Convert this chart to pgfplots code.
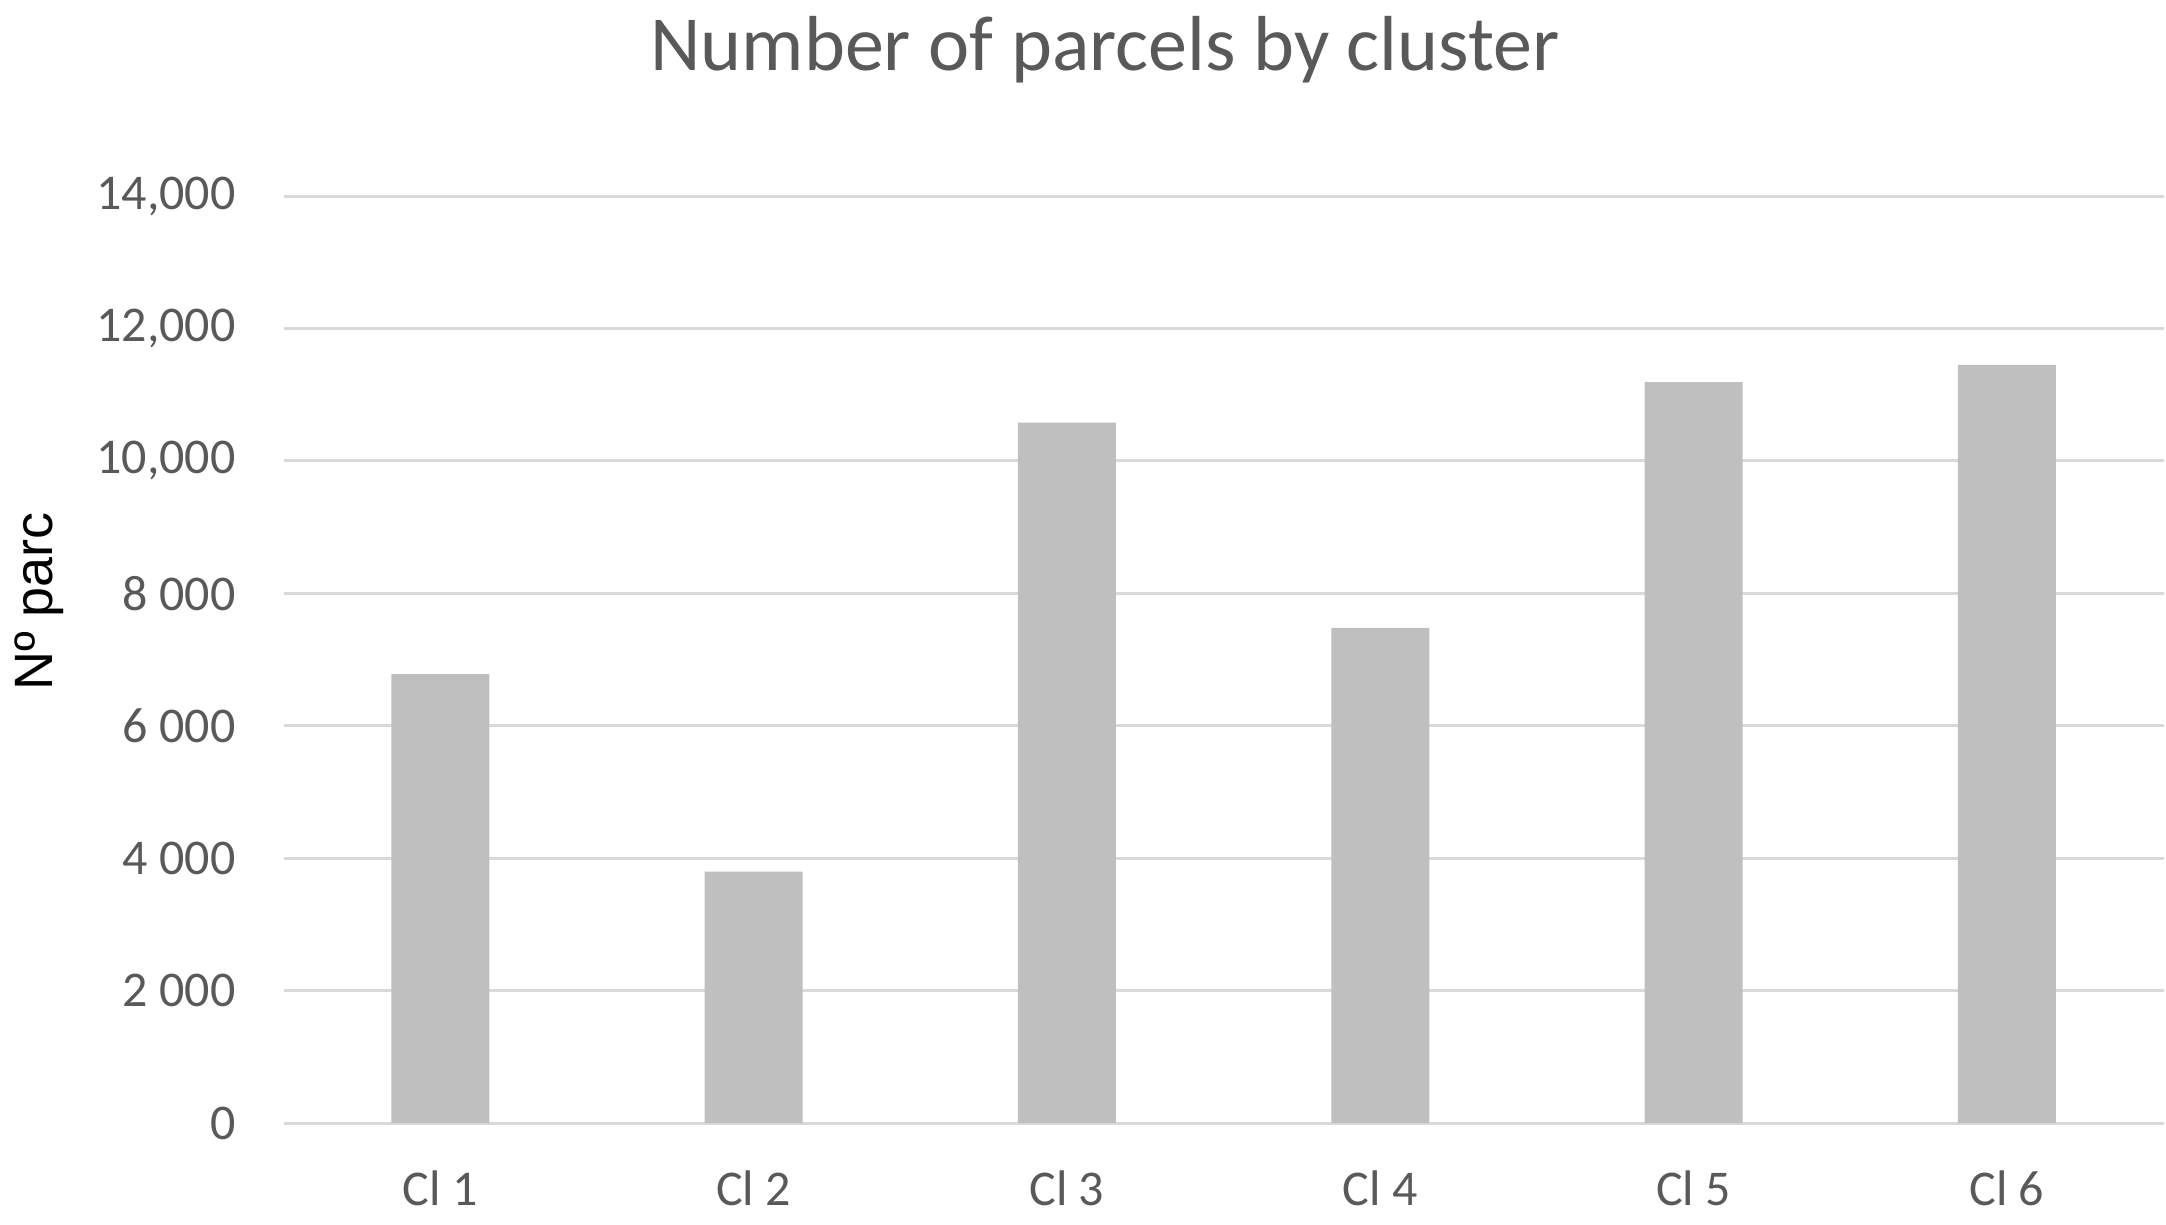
\documentclass[border=0pt]{standalone}
\usepackage{pgfplots}
\pgfplotsset{compat=1.18}
\usepackage{fontspec}
\setmainfont{Carlito}
\newfontfamily\arialfont{Liberation Sans}

\definecolor{txtgrey}{HTML}{595959}
\definecolor{gridgrey}{HTML}{D9D9D9}
\definecolor{bargrey}{HTML}{BFBFBF}

\begin{document}
\begin{tikzpicture}
\begin{axis}[
    at={(0,0)}, anchor=south west,
    scale only axis,
    width=470pt, height=231.8pt,
    xmin=-0.5, xmax=5.5,
    ymin=0, ymax=14000,
    xtick={0,1,2,3,4,5},
    xticklabels={Cl 1,Cl 2,Cl 3,Cl 4,Cl 5,Cl 6},
    ytick={0,2000,4000,6000,8000,10000,12000,14000},
    yticklabels={0,2 000,4 000,6 000,8 000,{10,000},{12,000},{14,000}},
    scaled y ticks=false,
    major tick length=0pt,
    axis line style={draw=none},
    ymajorgrids=true,
    grid style={gridgrey, line width=0.75pt},
    ticklabel style={font=\fontsize{12.5}{14}\selectfont, text=txtgrey},
    yticklabel style={anchor=east, inner sep=0pt, xshift=-11.8pt},
    xticklabel style={anchor=north, inner sep=0pt, yshift=-11.8pt},
    title={Number of parcels by cluster},
    title style={at={(axis description cs:0.437,1)}, anchor=base, inner sep=0pt,
        yshift=25.5pt, font=\fontsize{19.5}{23}\selectfont, text=txtgrey},
    ylabel={Nº parc},
    ylabel style={at={(axis description cs:-0.1302,0.5626)}, anchor=center, inner sep=0pt,
        font=\arialfont\fontsize{13.5}{16}\selectfont, text=black},
    clip=false,
]
\addplot[ybar, bar width=24.5pt, bar shift=0pt, fill=bargrey, draw=none] coordinates {
    (0, 6780)
    (1, 3800)
    (2, 10580)
    (3, 7480)
    (4, 11190)
    (5, 11450)
};
\end{axis}
\pgfresetboundingbox
\path[use as bounding box] (-70.9pt,-25.3pt) rectangle (470.6pt,280.8pt);
\end{tikzpicture}
\end{document}
